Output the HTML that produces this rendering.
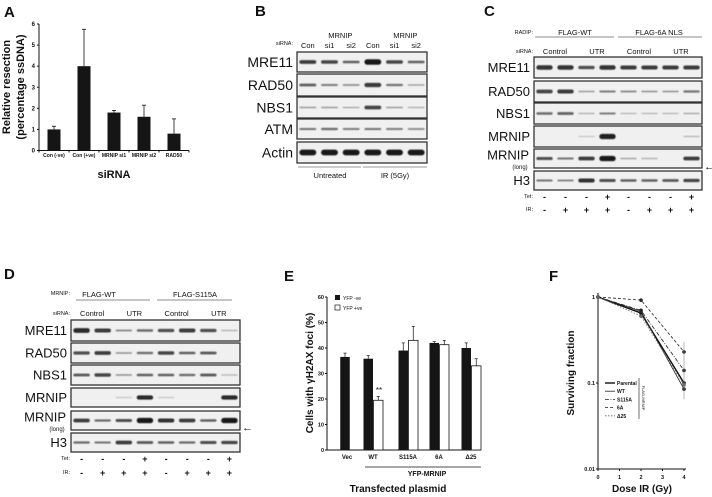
<!DOCTYPE html>
<html><head><meta charset="utf-8">
<style>
html,body{margin:0;padding:0;background:#fff;}
svg{display:block;font-family:"Liberation Sans",Arial,sans-serif;}
</style></head>
<body>
<svg id="fig" width="712" height="497" viewBox="0 0 712 497" xmlns="http://www.w3.org/2000/svg">
<defs>
<filter id="blur" x="-20%" y="-100%" width="140%" height="300%"><feGaussianBlur stdDeviation="0.6"/></filter>
</defs>
<g id="panelA"></g>
<g id="panelB"></g>
<g id="panelC"></g>
<g id="panelD"></g>
<g id="panelE"></g>
<g id="panelF"></g>
</svg>
<script>
// ---------- Panel A data ----------
const aCategories = ["Con (-ve)", "Con (+ve)", "MRNIP si1", "MRNIP si2", "RAD50"];
const aValues = [1.0, 4.0, 1.8, 1.6, 0.8];
const aErrors = [0.15, 1.75, 0.1, 0.55, 0.7];
const aTicks = [0, 1, 2, 3, 4, 5, 6];

// ---------- Panel E data ----------
const eCategories = ["Vec", "WT", "S115A", "6A", "\u039425"];
const eNeg = [36.5, 35.8, 39.0, 42.0, 40.0];
const eNegErr = [1.5, 1.2, 3.0, 0.5, 2.0];
const ePos = [null, 19.5, 43.0, 41.3, 33.0];
const ePosErr = [null, 1.5, 5.5, 1.7, 2.8];
const eTicks = [0, 10, 20, 30, 40, 50, 60];

// ---------- Panel F data ----------
const fDoses = [0, 2, 4];
const fParental = [1, 0.65, 0.1];
const fWT = [1, 0.68, 0.085];
const fS115A = [1, 0.7, 0.14];
const f6A = [1, 0.92, 0.23];
const fD25 = [1, 0.6, 0.095];
const fXTicks = [0, 1, 2, 3, 4];
const fYTicks = [1, 0.1, 0.01];
const fYTickLabels = ["1", "0.1", "0.01"];

// ---------- Blot band intensities ----------
const bRows = ["MRE11", "RAD50", "NBS1", "ATM", "Actin"];
const bBands = [
  [0.8, 0.75, 0.6, 1.0, 0.75, 0.6],
  [0.6, 0.45, 0.35, 0.8, 0.5, 0.25],
  [0.3, 0.3, 0.25, 0.75, 0.3, 0.2],
  [0.5, 0.55, 0.45, 0.5, 0.45, 0.4],
  [1.0, 1.0, 1.0, 1.0, 1.0, 1.0]
];
const cRows = ["MRE11", "RAD50", "NBS1", "MRNIP", "MRNIP", "H3"];
const cBands = [
  [0.85, 0.85, 0.7, 0.85, 0.8, 0.8, 0.8, 0.8],
  [0.75, 0.8, 0.3, 0.45, 0.4, 0.35, 0.35, 0.5],
  [0.55, 0.6, 0.2, 0.45, 0.15, 0.15, 0.15, 0.25],
  [0.0, 0.0, 0.05, 0.95, 0.0, 0.0, 0.0, 0.15],
  [0.7, 0.5, 0.8, 1.0, 0.3, 0.2, 0.0, 0.8],
  [0.5, 0.45, 0.85, 0.7, 0.6, 0.6, 0.65, 0.75]
];
const dRows = ["MRE11", "RAD50", "NBS1", "MRNIP", "MRNIP", "H3"];
const dBands = [
  [0.9, 0.8, 0.4, 0.55, 0.7, 0.8, 0.7, 0.2],
  [0.7, 0.8, 0.35, 0.55, 0.75, 0.6, 0.65, 0.0],
  [0.65, 0.75, 0.35, 0.6, 0.6, 0.55, 0.65, 0.15],
  [0.0, 0.0, 0.05, 0.9, 0.05, 0.0, 0.0, 0.9],
  [0.8, 0.55, 0.7, 1.0, 0.85, 0.8, 0.6, 1.0],
  [0.55, 0.5, 0.8, 0.65, 0.6, 0.55, 0.7, 0.75]
];
const tetRow = ["-", "-", "-", "+", "-", "-", "-", "+"];
const irRow = ["-", "+", "+", "+", "-", "+", "+", "+"];

const NS = "http://www.w3.org/2000/svg";
function mk(parent, tag, attrs, text) {
  const el = document.createElementNS(NS, tag);
  for (const k in attrs) el.setAttribute(k, attrs[k]);
  if (text !== undefined) el.textContent = text;
  parent.appendChild(el);
  return el;
}
function txt(parent, x, y, s, size, name, opts) {
  opts = opts || {};
  const el = mk(parent, "text", {x: x, y: y, "font-size": size, fill: "#111",
    "text-anchor": opts.anchor || "start", "font-weight": opts.weight || "normal"}, s);
  if (opts.transform) el.setAttribute("transform", opts.transform);
  
  
  return el;
}
function line(parent, x1, y1, x2, y2, name, w, dash, col) {
  const el = mk(parent, "line", {x1: x1, y1: y1, x2: x2, y2: y2, stroke: col || "#111", "stroke-width": w || 1});
  if (dash) el.setAttribute("stroke-dasharray", dash);
  
  
  return el;
}

// ================= Panel A =================
(function () {
  const g = document.getElementById("panelA");
  txt(g, 4, 17, "A", 15, "panel-label-a", {weight: "bold"});
  const x0 = 39, x1 = 189, yb = 150.5, yt = 24;
  const y = v => yb - (v / 6) * (yb - yt);
  const step = (x1 - x0) / aCategories.length;
  const xc = i => x0 + step * (i + 0.5);
  line(g, x0, yt, x0, yb, "a-y-axis");
  line(g, x0, yb, x1, yb, "a-x-axis");
  aTicks.forEach(t => {
    line(g, x0 - 2, y(t), x0, y(t), "a-y-tick");
    txt(g, x0 - 4, y(t) + 2, String(t), 6, "a-y-tick-label", {anchor: "end", weight: "bold"});
  });
  for (let i = 0; i <= aCategories.length; i++) line(g, x0 + step * i, yb, x0 + step * i, yb + 2, "a-x-tick");
  aCategories.forEach((c, i) => {
    const r = mk(g, "rect", {x: xc(i) - 6.5, y: y(aValues[i]), width: 13, height: yb - y(aValues[i]), fill: "#151515"});
    
    
    line(g, xc(i), y(aValues[i]), xc(i), y(aValues[i] + aErrors[i]), "a-error-bar", 0.8);
    line(g, xc(i) - 2, y(aValues[i] + aErrors[i]), xc(i) + 2, y(aValues[i] + aErrors[i]), "a-error-cap", 0.8);
    txt(g, xc(i), 157, c, 5, "a-x-tick-label", {anchor: "middle", weight: "bold"});
  });
  txt(g, 114, 178, "siRNA", 11, "a-x-axis-title", {anchor: "middle", weight: "bold"});
  txt(g, 10, 87, "Relative resection", 11, "a-y-axis-title", {anchor: "middle", weight: "bold", transform: "rotate(-90 10 87)"});
  txt(g, 24, 87, "(percentage ssDNA)", 11, "a-y-axis-title-2", {anchor: "middle", weight: "bold", transform: "rotate(-90 24 87)"});
})();

// ================= Blot helper =================
function blot(g, prefix, xL, xR, rows, labels, bands, labelSize, longIdx) {
  const n = bands[0].length;
  const lw = (xR - xL) / n;
  rows.forEach((r, ri) => {
    const box = mk(g, "rect", {x: xL, y: r[0], width: xR - xL, height: r[1] - r[0], fill: "#f0f0f0", stroke: "#333", "stroke-width": 1.3});
    
    
    const cy = (r[0] + r[1]) / 2;
    const h = r[1] - r[0];
    bands[ri].forEach((v, li) => {
      if (v <= 0.02) return;
      const bh = Math.max(1.2, h * (0.05 + 0.22 * v * v));
      const bwid = lw * 0.78;
      const e = mk(g, "rect", {x: xL + lw * (li + 0.5) - bwid / 2, y: cy - bh / 2, width: bwid, height: bh, rx: bh / 2,
        fill: "#111", opacity: Math.min(1, 0.15 + 0.8 * v), filter: "url(#blur)"});
      
      
    });
    if (longIdx === ri) {
      txt(g, xL - 5, cy + 1, labels[ri], labelSize, prefix + "-row-label", {anchor: "end"});
      txt(g, xL - 14, r[1] + 1, "(long)", 6, prefix + "-row-sublabel", {anchor: "middle"});
    } else {
      txt(g, xL - 4, cy + labelSize * 0.36, labels[ri], labelSize, prefix + "-row-label", {anchor: "end"});
    }
  });
  return lw;
}

// ================= Panel B =================
(function () {
  const g = document.getElementById("panelB");
  txt(g, 255, 16, "B", 15, "panel-label-b", {weight: "bold"});
  const rows = [[52, 72], [74, 96], [97, 118], [119, 139], [142, 163]];
  const xL = 297, xR = 427;
  const lw = blot(g, "b", xL, xR, rows, bRows, bBands, 14);
  const heads = ["Con", "si1", "si2", "Con", "si1", "si2"];
  txt(g, 293, 45, "siRNA:", 5.5, "b-sirna-label", {anchor: "end"});
  heads.forEach((h, i) => txt(g, xL + lw * (i + 0.5), 48, h, 7.5, "b-lane-label", {anchor: "middle"}));
  txt(g, xL + lw * 2, 38, "MRNIP", 7.5, "b-mrnip-label", {anchor: "middle"});
  txt(g, xL + lw * 5, 38, "MRNIP", 7.5, "b-mrnip-label", {anchor: "middle"});
  line(g, 298, 167, 361, 167, "b-untreated-bracket", 0.7, null, "#777");
  line(g, 363, 167, 427, 167, "b-ir-bracket", 0.7, null, "#777");
  txt(g, 330, 178, "Untreated", 7.5, "b-untreated-label", {anchor: "middle"});
  txt(g, 395, 178, "IR (5Gy)", 7.5, "b-ir-label", {anchor: "middle"});
})();

// ================= Panel C =================
(function () {
  const g = document.getElementById("panelC");
  txt(g, 484, 16, "C", 15, "panel-label-c", {weight: "bold"});
  const rows = [[57, 78], [81, 102], [103, 124], [126, 147], [149, 168], [171, 190]];
  const xL = 534, xR = 702;
  const lw = blot(g, "c", xL, xR, rows, cRows, cBands, 13, 4);
  txt(g, 533, 34, "RADIP:", 5.5, "c-radip-label", {anchor: "end"});
  txt(g, 575, 35, "FLAG-WT", 7.5, "c-flag-wt-label", {anchor: "middle"});
  txt(g, 659, 35, "FLAG-6A NLS", 7.5, "c-flag-6a-label", {anchor: "middle"});
  line(g, 535, 37, 614, 37, "c-wt-bracket", 0.7, null, "#666");
  line(g, 618, 37, 702, 37, "c-6a-bracket", 0.7, null, "#666");
  txt(g, 533, 53, "siRNA:", 5.5, "c-sirna-label", {anchor: "end"});
  ["Control", "UTR", "Control", "UTR"].forEach((s, i) => txt(g, xL + lw * (2 * i + 1), 54, s, 7.5, "c-sirna-lane-label", {anchor: "middle"}));
  txt(g, 533, 198, "Tet:", 5.5, "c-tet-label", {anchor: "end"});
  txt(g, 533, 211, "IR:", 5.5, "c-ir-label", {anchor: "end"});
  tetRow.forEach((s, i) => txt(g, xL + lw * (i + 0.5), 200, s, 9, "c-tet-sign", {anchor: "middle", weight: "bold"}));
  irRow.forEach((s, i) => txt(g, xL + lw * (i + 0.5), 213, s, 9, "c-ir-sign", {anchor: "middle", weight: "bold"}));
  txt(g, 704, 170, "\u2190", 11, "c-arrow", {weight: "bold"});
})();

// ================= Panel D =================
(function () {
  const g = document.getElementById("panelD");
  txt(g, 4, 279, "D", 15, "panel-label-d", {weight: "bold"});
  const rows = [[320, 341], [343, 363], [365, 385], [388, 407], [411, 430], [433, 452]];
  const xL = 71, xR = 240;
  const lw = blot(g, "d", xL, xR, rows, dRows, dBands, 13, 4);
  txt(g, 70, 295, "MRNIP:", 5.5, "d-mrnip-label", {anchor: "end"});
  txt(g, 99, 297, "FLAG-WT", 7.5, "d-flag-wt-label", {anchor: "middle"});
  txt(g, 195, 297, "FLAG-S115A", 7.5, "d-flag-s115a-label", {anchor: "middle"});
  line(g, 76, 300, 150, 300, "d-wt-bracket", 0.7, null, "#666");
  line(g, 157, 300, 232, 300, "d-s115a-bracket", 0.7, null, "#666");
  txt(g, 70, 315, "siRNA:", 5.5, "d-sirna-label", {anchor: "end"});
  ["Control", "UTR", "Control", "UTR"].forEach((s, i) => txt(g, xL + lw * (2 * i + 1), 316, s, 7.5, "d-sirna-lane-label", {anchor: "middle"}));
  txt(g, 70, 460, "Tet:", 5.5, "d-tet-label", {anchor: "end"});
  txt(g, 70, 474, "IR:", 5.5, "d-ir-label", {anchor: "end"});
  tetRow.forEach((s, i) => txt(g, xL + lw * (i + 0.5), 462, s, 9, "d-tet-sign", {anchor: "middle", weight: "bold"}));
  irRow.forEach((s, i) => txt(g, xL + lw * (i + 0.5), 476, s, 9, "d-ir-sign", {anchor: "middle", weight: "bold"}));
  txt(g, 242, 431, "\u2190", 11, "d-arrow", {weight: "bold"});
})();

// ================= Panel E =================
(function () {
  const g = document.getElementById("panelE");
  txt(g, 284, 281, "E", 15, "panel-label-e", {weight: "bold"});
  const x0 = 327, x1 = 481, yb = 450, yt = 297;
  const y = v => yb - (v / 60) * (yb - yt);
  const centers = [347, 373, 408, 439, 471];
  const bw = 9.5;
  line(g, x0, yt, x0, yb, "e-y-axis");
  line(g, x0, yb, x1, yb, "e-x-axis");
  eTicks.forEach(t => {
    line(g, x0 - 2, y(t), x0, y(t), "e-y-tick");
    txt(g, x0 - 3, y(t) + 2, String(t), 5.5, "e-y-tick-label", {anchor: "end", weight: "bold"});
  });
  eCategories.forEach((c, i) => {
    const cx = centers[i];
    const nx = ePos[i] === null ? cx - bw / 2 - 2 : cx - bw;
    const r = mk(g, "rect", {x: nx, y: y(eNeg[i]), width: bw, height: yb - y(eNeg[i]), fill: "#151515"});
    
    
    line(g, nx + bw / 2, y(eNeg[i]), nx + bw / 2, y(eNeg[i] + eNegErr[i]), "e-error-bar", 0.7);
    line(g, nx + bw / 2 - 1.5, y(eNeg[i] + eNegErr[i]), nx + bw / 2 + 1.5, y(eNeg[i] + eNegErr[i]), "e-error-cap", 0.7);
    if (ePos[i] !== null) {
      const px = cx + 0.5;
      const r2 = mk(g, "rect", {x: px, y: y(ePos[i]), width: bw, height: yb - y(ePos[i]), fill: "#fff", stroke: "#151515", "stroke-width": 0.8});
      
      
      line(g, px + bw / 2, y(ePos[i]), px + bw / 2, y(ePos[i] + ePosErr[i]), "e-error-bar", 0.7);
      line(g, px + bw / 2 - 1.5, y(ePos[i] + ePosErr[i]), px + bw / 2 + 1.5, y(ePos[i] + ePosErr[i]), "e-error-cap", 0.7);
    }
    txt(g, cx, 459, c, 6, "e-x-tick-label", {anchor: "middle", weight: "bold"});
  });
  txt(g, 379, 393, "**", 8, "e-significance", {anchor: "middle"});
  line(g, 365, 467, 481, 467, "e-yfp-mrnip-bracket", 0.7);
  txt(g, 427, 476, "YFP-MRNIP", 7, "e-yfp-mrnip-label", {anchor: "middle", weight: "bold"});
  txt(g, 398, 492, "Transfected plasmid", 10, "e-x-axis-title", {anchor: "middle", weight: "bold"});
  txt(g, 313, 373, "Cells with \u03b3H2AX foci (%)", 10, "e-y-axis-title", {anchor: "middle", weight: "bold", transform: "rotate(-90 313 373)"});
  const l1 = mk(g, "rect", {x: 335, y: 295, width: 5, height: 5, fill: "#151515"});
  
  
  const l2 = mk(g, "rect", {x: 335, y: 305, width: 5, height: 5, fill: "#fff", stroke: "#151515", "stroke-width": 0.7});
  
  
  txt(g, 343, 300, "YFP -ve", 5, "e-legend-entry-neg", {});
  txt(g, 343, 310, "YFP +ve", 5, "e-legend-entry-pos", {});
})();

// ================= Panel F =================
(function () {
  const g = document.getElementById("panelF");
  txt(g, 549, 281, "F", 15, "panel-label-f", {weight: "bold"});
  const x0 = 598, xMax = 684, yTop = 297, yDec = 86;
  const x = d => x0 + (d / 4) * (xMax - x0);
  const y = v => yTop - Math.log10(v) * yDec;
  line(g, x0, y(1) - 4, x0, y(0.01), "f-y-axis");
  line(g, x0, y(0.01), xMax + 2, y(0.01), "f-x-axis");
  fYTicks.forEach((t, i) => {
    line(g, x0 - 2, y(t), x0, y(t), "f-y-tick");
    txt(g, x0 - 3, y(t) + 2, fYTickLabels[i], 5.5, "f-y-tick-label", {anchor: "end", weight: "bold"});
  });
  fXTicks.forEach(t => {
    line(g, x(t), y(0.01), x(t), y(0.01) + 2, "f-x-tick");
    txt(g, x(t), 479, String(t), 5.5, "f-x-tick-label", {anchor: "middle", weight: "bold"});
  });
  const series = [
    ["parental", fParental, null, "#111", 1.4],
    ["wt", fWT, null, "#222", 0.8],
    ["s115a", fS115A, "4 1.5 1 1.5", "#222", 0.8],
    ["6a", f6A, "3 2", "#222", 0.8],
    ["d25", fD25, "1.5 1.5", "#666", 0.8]
  ];
  series.forEach(s => {
    const pts = s[1].map((v, i) => x(fDoses[i]) + "," + y(v)).join(" ");
    const pl = mk(g, "polyline", {points: pts, fill: "none", stroke: s[3], "stroke-width": s[4]});
    if (s[2]) pl.setAttribute("stroke-dasharray", s[2]);
    
    
    s[1].forEach((v, i) => {
      const c = mk(g, "circle", {cx: x(fDoses[i]), cy: y(v), r: 1.8, fill: s[3]});
      
      
    });
  });
  line(g, x(4), y(0.065), x(4), y(0.3), "f-error-bar", 0.6, null, "#888");
  const labels = ["Parental", "WT", "S115A", "6A", "\u039425"];
  series.forEach((s, i) => {
    const ly = 383 + i * 8.2;
    line(g, 605, ly, 615, ly, "f-legend-line", s[4], s[2], s[3]);
    txt(g, 617, ly + 2, labels[i], 5, "f-legend-entry", {weight: "bold"});
  });
  line(g, 639, 378, 639, 419, "f-legend-bracket", 0.6);
  txt(g, 642, 398, "FLAG-MRNIP", 4, "f-legend-group-label", {anchor: "middle", transform: "rotate(90 642 398)"});
  txt(g, 642, 492, "Dose IR (Gy)", 10, "f-x-axis-title", {anchor: "middle", weight: "bold"});
  txt(g, 574, 373, "Surviving fraction", 10, "f-y-axis-title", {anchor: "middle", weight: "bold", transform: "rotate(-90 574 373)"});
})();
</script>
</body></html>
